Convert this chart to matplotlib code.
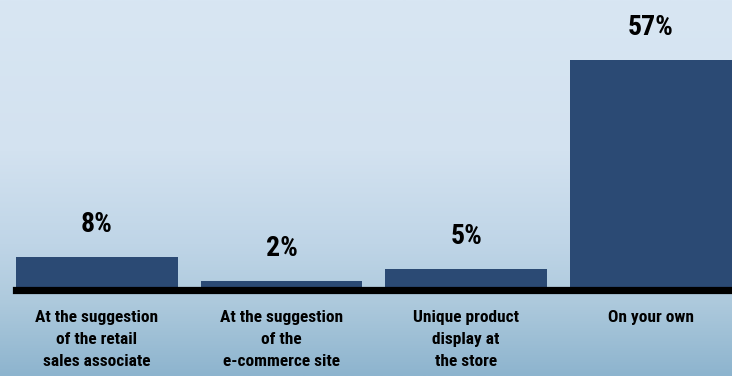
import numpy as np
import matplotlib.pyplot as plt
from matplotlib.colors import LinearSegmentedColormap

categories = ["At the suggestion\nof the retail\nsales associate",
              "At the suggestion\nof the\ne-commerce site",
              "Unique product\ndisplay at\nthe store",
              "On your own"]
values = [8, 2, 5, 57]
value_labels = ["8%", "2%", "5%", "57%"]

fonts = ["Roboto Condensed", "DejaVu Sans"]

fig = plt.figure(figsize=(7.32, 3.76), dpi=100)

# background gradient, light at top to steel blue at bottom
bg = fig.add_axes([0, 0, 1, 1], zorder=-1)
bg.set_axis_off()
cmap = LinearSegmentedColormap.from_list(
    "bg", [(0.0, "#d8e6f3"), (0.4, "#d3e2f0"), (0.65, "#bfd5e7"),
           (0.8, "#aecadd"), (1.0, "#8db4ce")])
grad = np.linspace(0, 1, 256).reshape(-1, 1)
bg.imshow(grad, aspect="auto", cmap=cmap, extent=[0, 1, 0, 1])

ax = fig.add_axes([0, 0.230, 1, 0.770])
ax.patch.set_alpha(0)
x = np.arange(len(values))
ax.bar(x, values, width=0.877, color="#2b4a74", zorder=2)
ax.set_xlim(-0.525, 3.44)
ax.set_ylim(0, 71.9)

for xi, v, lab in zip(x, values, value_labels):
    ax.annotate(lab, (xi, v), xytext=(0, 14), textcoords="offset points",
                ha="center", va="bottom", fontsize=20, fontweight="bold",
                family=fonts, fontstretch="condensed", color="black")

for side in ["top", "right", "left"]:
    ax.spines[side].set_visible(False)
ax.spines["bottom"].set_linewidth(5.2)
ax.spines["bottom"].set_color("black")
ax.spines["bottom"].set_bounds(-0.44, 3.44)
ax.spines["bottom"].set_zorder(3)
ax.set_yticks([])
ax.set_xticks(x)
ax.set_xticklabels(categories, fontsize=12.5, fontweight="bold",
                   family=fonts, fontstretch="condensed", linespacing=1.55)
ax.tick_params(axis="x", length=0, pad=15)

fig.savefig("out.png", dpi=100)
